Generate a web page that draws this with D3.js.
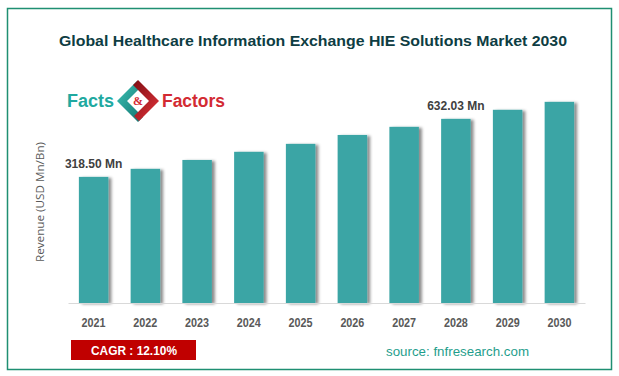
<!DOCTYPE html>
<html>
<head>
<meta charset="utf-8">
<script src="https://cdn.jsdelivr.net/npm/d3@7"></script>
<style>
  body { margin: 0; background: #fff; }
  svg { display: block; }
</style>
</head>
<body>
<div class="market-chart"></div>
<script>

// values (Mn), only 2021 and 2028 are printed
var years = ["2021", "2022", "2023", "2024", "2025", "2026", "2027", "2028", "2029", "2030"];
var revenue = [318.50, 362, 410, 454, 497, 545, 589, 632.03, 681, 724];
var labelledYears = ["2021", "2028"];
var labelText = ["318.50 Mn", "632.03 Mn"];

var titleText = "Global Healthcare Information Exchange HIE Solutions Market 2030";
var yAxisTitle = "Revenue (USD Mn/Bn)";
var cagrText = "CAGR : 12.10%";
var sourceText = "source: fnfresearch.com";

var W = 619, H = 376;

var margin = {top: 80, right: 34, bottom: 73, left: 68},
  width = W - margin.left - margin.right,
  height = H - margin.top - margin.bottom;

var svg = d3.select(".market-chart")
  .append("svg")
    .attr("width", W)
    .attr("height", H);

var defs = svg.append("defs");

var shadow = defs.append("filter")
  .attr("id", "barShadow")
  .attr("x", "-20%").attr("y", "-5%")
  .attr("width", "160%").attr("height", "110%");
shadow.append("feDropShadow")
  .attr("dx", 3).attr("dy", 1)
  .attr("stdDeviation", 1.6)
  .attr("flood-color", "#000")
  .attr("flood-opacity", 0.45);

var dashGrad = defs.append("linearGradient").attr("id", "dashGrad");
dashGrad.append("stop").attr("offset", "0%").attr("stop-color", "#4f9f55");
dashGrad.append("stop").attr("offset", "100%").attr("stop-color", "#8fd14f");

var tealGrad = defs.append("linearGradient").attr("id", "tealGrad")
  .attr("x1", "0").attr("y1", "0").attr("x2", "1").attr("y2", "1");
tealGrad.append("stop").attr("offset", "0%").attr("stop-color", "#3cc3b6");
tealGrad.append("stop").attr("offset", "100%").attr("stop-color", "#12726e");

var redGrad = defs.append("linearGradient").attr("id", "redGrad")
  .attr("x1", "0").attr("y1", "0").attr("x2", "1").attr("y2", "1");
redGrad.append("stop").attr("offset", "0%").attr("stop-color", "#7e0d12");
redGrad.append("stop").attr("offset", "100%").attr("stop-color", "#e4343c");

// frame
svg.append("rect")
  .attr("x", 7.5).attr("y", 8.5)
  .attr("width", 604).attr("height", 361)
  .attr("fill", "none")
  .attr("stroke", "#1f8f72")
  .attr("stroke-width", 1.5);

// title
svg.append("text")
  .attr("x", 313).attr("y", 46)
  .attr("text-anchor", "middle")
  .attr("textLength", 508)
  .attr("lengthAdjust", "spacingAndGlyphs")
  .style("font-family", "'Liberation Sans', Arial, sans-serif")
  .style("font-weight", "bold")
  .style("font-size", "15px")
  .style("fill", "#0e3d43")
  .text(titleText);

svg.append("line")
  .attr("x1", 25).attr("x2", 585)
  .attr("y1", 66.5).attr("y2", 66.5)
  .attr("stroke", "url(#dashGrad)")
  .attr("stroke-width", 1)
  .attr("stroke-dasharray", "4,3");

// logo
var logo = svg.append("g");
logo.append("text")
  .attr("x", 67).attr("y", 107)
  .attr("textLength", 47)
  .attr("lengthAdjust", "spacingAndGlyphs")
  .style("font-family", "'Liberation Sans', Arial, sans-serif")
  .style("font-weight", "bold")
  .style("font-size", "18px")
  .style("fill", "#20a9a0")
  .text("Facts");
logo.append("text")
  .attr("x", 162).attr("y", 107)
  .attr("textLength", 63)
  .attr("lengthAdjust", "spacingAndGlyphs")
  .style("font-family", "'Liberation Sans', Arial, sans-serif")
  .style("font-weight", "bold")
  .style("font-size", "18px")
  .style("fill", "#d32a32")
  .text("Factors");

var icon = logo.append("g").attr("transform", "translate(138,101)");
icon.append("path")
  .attr("d", "M-1,-20 L-21,0 L0,21 L5,16 L-11,0 L4,-15 Z")
  .attr("fill", "url(#tealGrad)");
icon.append("path")
  .attr("d", "M1,20 L21,0 L0,-21 L-5,-16 L11,0 L-4,15 Z")
  .attr("fill", "url(#redGrad)");
icon.append("text")
  .attr("x", 0).attr("y", 4)
  .attr("text-anchor", "middle")
  .style("font-family", "'Liberation Serif', serif")
  .style("font-weight", "bold")
  .style("font-size", "12px")
  .style("fill", "#d32a32")
  .text("&");

var g = svg.append("g")
  .attr("transform", "translate(" + margin.left + "," + margin.top + ")");

var x = d3.scaleBand()
  .domain(years)
  .range([0, width])
  .paddingInner(0.43)
  .paddingOuter(0.21);

// axis baseline does not sit at zero in the original
var y = d3.scaleLinear()
  .domain([-363, 842])
  .range([height, 0]);

g.selectAll(".bar")
  .data(years)
  .enter()
  .append("rect")
  .attr("class", "bar")
  .attr("x", function(d) { return x(d); })
  .attr("y", function(d, i) { return y(revenue[i]); })
  .attr("width", x.bandwidth())
  .attr("height", function(d, i) { return height - y(revenue[i]); })
  .attr("fill", "#3ba5a5")
  .attr("filter", "url(#barShadow)");

var xAxis = g.append("g")
  .attr("transform", "translate(0," + height + ")")
  .call(d3.axisBottom(x).tickSize(0).tickPadding(15));

xAxis.select(".domain")
  .attr("stroke", "#d9d9d9");

xAxis.selectAll("text")
  .style("font-family", "'Liberation Sans', Arial, sans-serif")
  .style("font-weight", "bold")
  .style("font-size", "12px")
  .attr("textLength", 24)
  .attr("lengthAdjust", "spacingAndGlyphs")
  .style("fill", "#595959");

g.selectAll(".val")
  .data(labelledYears)
  .enter()
  .append("text")
  .attr("class", "val")
  .attr("x", function(d) { return x(d) + x.bandwidth() / 2; })
  .attr("y", function(d) { return y(revenue[years.indexOf(d)]) - 9; })
  .attr("text-anchor", "middle")
  .style("font-family", "'Liberation Sans', Arial, sans-serif")
  .style("font-weight", "bold")
  .style("font-size", "12px")
  .style("fill", "#404040")
  .text(function(d, i) { return labelText[i]; });

svg.append("text")
  .attr("transform", "translate(44," + 202 + ") rotate(-90)")
  .attr("text-anchor", "middle")
  .attr("textLength", 120)
  .attr("lengthAdjust", "spacingAndGlyphs")
  .style("font-family", "'Open Sans', sans-serif")
  .style("font-size", "11px")
  .style("fill", "#595959")
  .text(yAxisTitle);

// footer
svg.append("rect")
  .attr("x", 71).attr("y", 340)
  .attr("width", 125).attr("height", 20)
  .attr("fill", "#c00000");

svg.append("text")
  .attr("x", 134).attr("y", 355)
  .attr("text-anchor", "middle")
  .attr("textLength", 86)
  .attr("lengthAdjust", "spacingAndGlyphs")
  .style("font-family", "'Liberation Sans', Arial, sans-serif")
  .style("font-weight", "bold")
  .style("font-size", "13px")
  .style("fill", "#fff")
  .text(cagrText);

svg.append("text")
  .attr("x", 386).attr("y", 356)
  .attr("textLength", 143)
  .attr("lengthAdjust", "spacingAndGlyphs")
  .style("font-family", "'Liberation Sans', Arial, sans-serif")
  .style("font-size", "13.5px")
  .style("fill", "#1f9e8c")
  .text(sourceText);

</script>
</body>
</html>
